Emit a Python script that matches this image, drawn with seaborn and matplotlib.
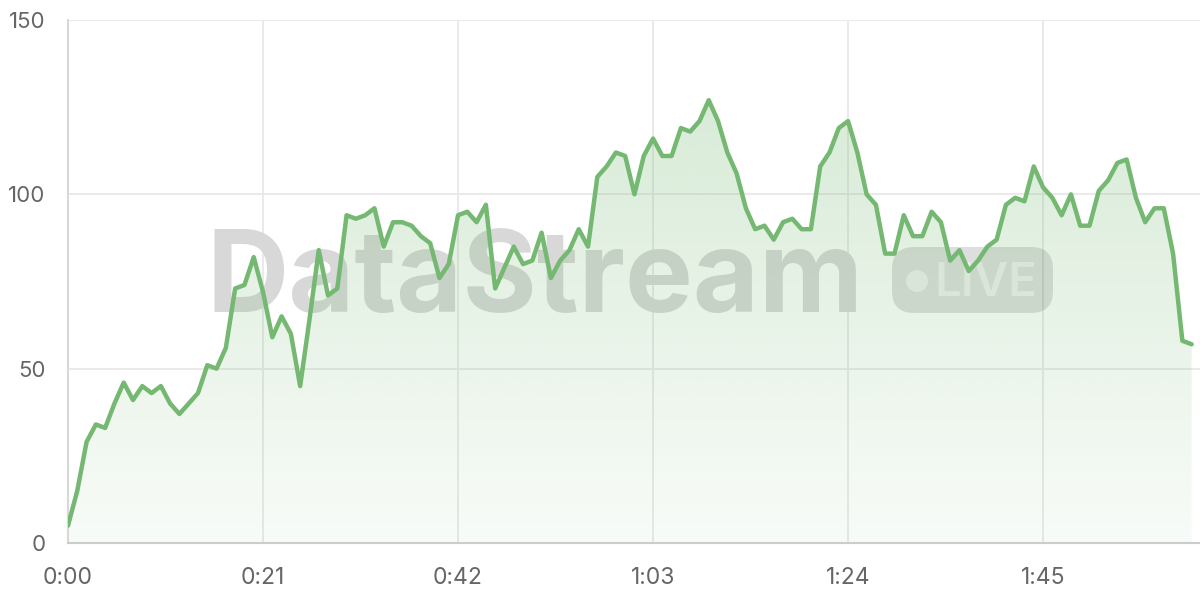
import numpy as np
import pandas as pd
import matplotlib
matplotlib.use("Agg")
import matplotlib.pyplot as plt
import matplotlib.transforms as mtransforms
import seaborn as sns
from matplotlib.patches import FancyBboxPatch, Circle

# ---- data (seconds elapsed, value) ----
values = [5, 15, 29, 34, 33, 40, 46, 41, 45, 43,
          45, 40, 37, 40, 43, 51, 50, 56, 73, 74,
          82, 72, 59, 65, 60, 45, 64, 84, 71, 73,
          94, 93, 94, 96, 85, 92, 92, 91, 88, 86,
          76, 80, 94, 95, 92, 97, 73, 79, 85, 80,
          81, 89, 76, 81, 84, 90, 85, 105, 108, 112,
          111, 100, 111, 116, 111, 111, 119, 118, 121, 127,
          121, 112, 106, 96, 90, 91, 87, 92, 93, 90,
          90, 108, 112, 119, 121, 112, 100, 97, 83, 83,
          94, 88, 88, 95, 92, 81, 84, 78, 81, 85,
          87, 97, 99, 98, 108, 102, 99, 94, 100, 91,
          91, 101, 104, 109, 110, 99, 92, 96, 96, 83,
          58, 57]
seconds = list(range(len(values)))
x_ticks = [0, 21, 42, 63, 84, 105]
x_tick_labels = ["0:00", "0:21", "0:42", "1:03", "1:24", "1:45"]
y_ticks = [0, 50, 100, 150]
watermark_text = "DataStream"
badge_text = "LIVE"

df = pd.DataFrame({"t": seconds, "v": values})

sns.set_theme(style="white")
plt.rcParams["font.family"] = ["Inter", "DejaVu Sans"]

LINE = "#74b872"
GRID = "#e8e8e8"
TEXT = "#666666"

fig = plt.figure(figsize=(12, 6), dpi=100)
ax = fig.add_axes([68 / 1200, 57 / 600, 1132 / 1200, 523 / 600])
ax.set_xlim(0, 121.9)
ax.set_ylim(0, 150)

# watermark (drawn below the fill), placed in pixel space
px = mtransforms.IdentityTransform()
ax.text(207, 288, watermark_text, transform=px, fontsize=82,
        fontweight="bold", color="#d8d8d8", ha="left", va="baseline", zorder=1)
badge = FancyBboxPatch((892, 287), 161, 66, transform=px,
                       boxstyle="round,pad=0,rounding_size=22",
                       facecolor="#000000", alpha=0.13, edgecolor="none", zorder=1)
ax.add_patch(badge)
ax.add_patch(Circle((917, 319), 11, transform=px, facecolor="#ffffff",
                    alpha=0.55, edgecolor="none", zorder=1.1))
ax.text(935, 304, badge_text, transform=px, fontsize=34, fontweight="semibold",
        color="#ffffff", alpha=0.55, ha="left", va="baseline", zorder=1.1)

# gradient fill under the line
poly = ax.fill_between(df["t"], df["v"], 0, color="none", zorder=2)
grad = np.zeros((256, 1, 4))
grad[:, 0, :3] = matplotlib.colors.to_rgb(LINE)
grad[:, 0, 3] = np.linspace(0.32, 0.05, 256)
img = ax.imshow(grad, extent=[0, 121, 0, 150], aspect="auto", origin="upper",
                zorder=2, interpolation="bilinear")
img.set_clip_path(poly.get_paths()[0], ax.transData)

sns.lineplot(data=df, x="t", y="v", ax=ax, color=LINE, linewidth=3.2, zorder=3)

ax.set_xticks(x_ticks)
ax.set_xticklabels(x_tick_labels)
ax.set_yticks(y_ticks)
ax.set_xlabel("")
ax.set_ylabel("")
ax.grid(True, color=GRID, linewidth=1.3, zorder=0)
ax.set_axisbelow(True)
ax.tick_params(axis="both", length=11, width=1.3, color=GRID, labelsize=16,
               labelcolor=TEXT)
ax.tick_params(axis="x", pad=6, labelsize=16.5)
ax.tick_params(axis="y", pad=5)
for s in ["top", "right"]:
    ax.spines[s].set_visible(False)
ax.spines["left"].set_color("#d8d8d8")
ax.spines["left"].set_linewidth(1.5)
ax.spines["bottom"].set_color("#cccccc")
ax.spines["bottom"].set_linewidth(1.5)

fig.savefig("out.png", dpi=100)
